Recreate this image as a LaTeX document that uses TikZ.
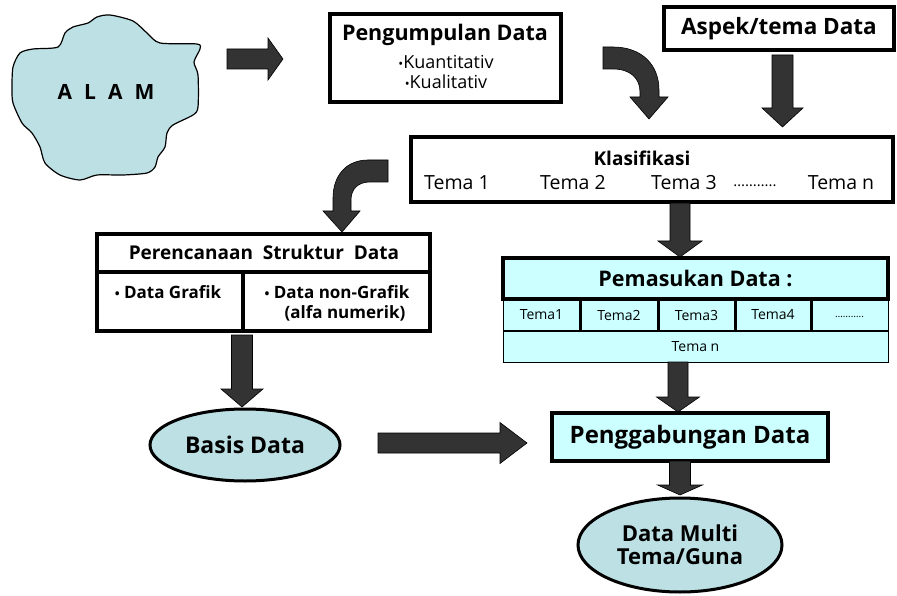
\documentclass[tikz,border=0pt]{standalone}
\usepackage{fontspec}
\setmainfont{Open Sans}
\usepackage{tikz}
\usetikzlibrary{positioning,calc,shapes.geometric}
\definecolor{alambiru}{HTML}{BCE0E4}
\definecolor{biruterang}{HTML}{CCFFFF}
\definecolor{panahabu}{HTML}{333333}
\tikzset{>=stealth,
  kotak/.style={draw,line width=3.2pt,rectangle,inner sep=0pt},
  oval/.style={ellipse,draw,line width=3pt,fill=alambiru,inner sep=0pt},
  blok/.style={fill=panahabu,draw=black,line width=0.6pt,line join=miter}}
\newcommand*{\tb}[1]{\fontsize{#1}{#1}\selectfont\bfseries}
\newcommand*{\tn}[1]{\fontsize{#1}{#1}\selectfont}
\newcommand*{\titik}{{\fontsize{13}{13}\selectfont•}}
% panah blok ke bawah: x, y atas, y ujung, setengah batang, setengah kepala, panjang kepala
\newcommand*{\panahbawah}[6]{%
  \filldraw[blok] (#1-#4,#2) -- (#1+#4,#2) -- (#1+#4,#3-#6) -- (#1+#5,#3-#6)
    -- (#1,#3) -- (#1-#5,#3-#6) -- (#1-#4,#3-#6) -- cycle;}
% panah blok ke kanan: y, x kiri, x ujung, setengah batang, setengah kepala, panjang kepala
\newcommand*{\panahkanan}[6]{%
  \filldraw[blok] (#2,#1-#4) -- (#3-#6,#1-#4) -- (#3-#6,#1-#5) -- (#3,#1)
    -- (#3-#6,#1+#5) -- (#3-#6,#1+#4) -- (#2,#1+#4) -- cycle;}

\begin{document}
\begin{tikzpicture}[x=1pt,y=-1pt]
\useasboundingbox (0,0) rectangle (897,596);
% alam
\filldraw[fill=alambiru,line width=1.2pt] plot[smooth cycle,tension=0.45] coordinates {
  (97,17) (110,15) (133,21) (147,33) (160,43) (197,44) (200,49) (194,62)
  (198,75) (198,107) (193,115) (173,125) (167,133) (165,147) (158,157)
  (155,167) (147,173) (123,175) (97,175) (80,180) (60,175) (45,163)
  (40,147) (32,133) (22,123) (13,103) (12,88) (13,67) (20,53) (33,49)
  (58,47) (65,33) (73,27) (88,23)};
\node (alam) at (106,92) {\tb{21}A\hspace{12pt}L\hspace{12pt}A\hspace{12pt}M};

% kotak atas
\node[kotak,minimum width=231,minimum height=88] (kumpul) at (445.5,58) {};
\node (kumpulj) at (445,35) {\tb{21.5}Pengumpulan Data};
\node (kuanti) at (446,62) {\tn{18}\titik Kuantitativ};
\node (kuali) at (446,82) {\tn{18}\titik Kualitativ};
\node[kotak,minimum width=230,minimum height=43] (aspek) at (779,28.5) {\tb{22.5}Aspek/tema Data};

% klasifikasi
\node[kotak,minimum width=482,minimum height=65] (klas) at (652,169.5) {};
\node (klasj) at (642,158) {\tb{19}Klasifikasi};
\node (tema1) at (457,183) {\tn{19.5}Tema 1};
\node (tema2) at (573,183) {\tn{19.5}Tema 2};
\node (tema3) at (684,183) {\tn{19.5}Tema 3};
\node (temad) at (755,186) {\tn{15}\dots\dots\dots..};
\node (teman) at (841,183) {\tn{19.5}Tema n};

% perencanaan struktur data
\node[kotak,minimum width=333,minimum height=97] (renc) at (263.5,282.5) {};
\draw[line width=3.2pt] (97,272) -- (430,272);
\draw[line width=3.2pt] (243,272) -- (243,331);
\node (rencj) at (264,252) {\tb{19}Perencanaan\hspace{5pt} Struktur\hspace{5pt} Data};
\node (grafik) at (168,292) {\tb{17}\titik\ Data Grafik};
\node (nongrafik) at (337,292) {\tb{17}\titik\ Data non-Grafik};
\node (alfa) at (345,313) {\tb{17}(alfa numerik)};

% pemasukan data
\filldraw[fill=biruterang,line width=0.8pt] (503,299) rectangle (888,362);
\foreach \x in {580,658,735,811}
  \draw[line width=3pt] (\x,299) -- (\x,331);
\draw[line width=2pt] (503,331) -- (888,331);
\node[kotak,fill=biruterang,minimum width=385,minimum height=41] (masuk) at (695.5,278.5) {\tb{21.5}Pemasukan Data :};
\node (mt1) at (541.5,315) {\tn{14}Tema1};
\node (mt2) at (619,315) {\tn{14}Tema2};
\node (mt3) at (696.5,315) {\tn{14}Tema3};
\node (mt4) at (773,315) {\tn{14}Tema4};
\node (mtd) at (849.5,317) {\tn{10}\dots\dots\dots..};
\node (mtn) at (695.5,346.5) {\tn{14}Tema n};

% bawah
\node[oval,minimum width=190,minimum height=72] (basis) at (245,445) {\tb{23}Basis Data};
\node[kotak,fill=biruterang,minimum width=276,minimum height=48] (gabung) at (690,437) {\tb{24}Penggabungan Data};
\node[oval,minimum width=204,minimum height=94,align=center] (multi) at (680,545)
  {\tb{22}Data Multi\\[6pt]\tb{22}Tema/Guna};

% panah
\panahkanan{59}{227}{283}{10}{21}{15}
\panahkanan{443}{378}{527}{10}{20.5}{27}
\panahbawah{782.5}{55}{127}{10.5}{20.5}{19}
\panahbawah{680}{203}{257}{10}{22}{16}
\panahbawah{242}{335}{407}{10.5}{21}{18}
\panahbawah{678}{362}{412}{10}{21.5}{15}
\panahbawah{680}{461}{495}{10.5}{22.5}{10}
% panah lengkung
\filldraw[blok] (603,47) -- (613,47) .. controls (642,47) and (659,65) .. (659,90)
  -- (659,97) -- (668,97) -- (649,119) -- (630,97) -- (640,97) -- (640,92)
  .. controls (640,78) and (630,69) .. (613,69) -- (603,69) -- cycle;
\filldraw[blok] (388,160) -- (368,160) .. controls (346,160) and (333,176) .. (333,198)
  -- (333,211) -- (323,211) -- (342,232) -- (360,211) -- (351,211) -- (351,200)
  .. controls (351,189) and (358,182) .. (370,182) -- (388,182) -- cycle;
\end{tikzpicture}
\end{document}
